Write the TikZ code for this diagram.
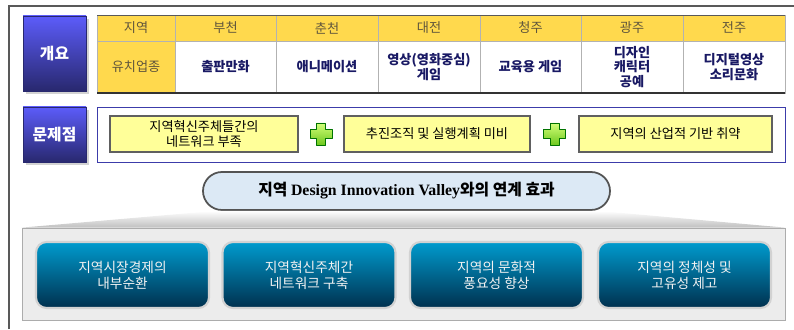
\documentclass[tikz,border=0pt]{standalone}
\usepackage{fontspec}
\setmainfont{Noto Sans CJK KR}
\newfontfamily\latinserif{Liberation Serif}
\usepackage{xcolor}
\usetikzlibrary{positioning,calc,shadows}
\definecolor{tagtop}{RGB}{92,92,250}
\definecolor{tagbot}{RGB}{40,40,110}
\definecolor{hdryellow}{RGB}{255,217,77}
\definecolor{cellgray}{RGB}{95,85,60}
\definecolor{cellnavy}{RGB}{25,25,100}
\definecolor{issueyellow}{RGB}{255,255,153}
\definecolor{frameblue}{RGB}{60,60,170}
\definecolor{pillblue}{RGB}{220,233,245}
\definecolor{tealtop}{RGB}{0,155,206}
\definecolor{tealbot}{RGB}{0,48,78}
\definecolor{plustop}{RGB}{210,255,120}
\definecolor{plusbot}{RGB}{110,200,30}

\begin{document}
\begin{tikzpicture}[
  font=\fontsize{7.5}{8.6}\selectfont,
  tag/.style={text=white,font=\fontsize{9}{11}\selectfont\bfseries,minimum width=1.26cm,top color=tagtop,bottom color=tagbot,draw=tagbot,drop shadow={shadow xshift=1.5pt,shadow yshift=-1.5pt,fill=gray!70}},
  hcell/.style={draw=gray!60,fill=hdryellow,text=cellgray,minimum width=#1,minimum height=0.52cm,inner sep=0pt,outer sep=0pt},
  bcell/.style={draw=gray!60,fill=white,text=cellnavy,font=\fontsize{7.5}{8.4}\selectfont\bfseries,minimum width=#1,minimum height=1.04cm,align=center,inner sep=0pt,outer sep=0pt},
  issue/.style={draw=gray!75!black,line width=1.2pt,fill=issueyellow,minimum height=0.72cm,align=center,inner sep=1pt},
  effect/.style={draw=gray!35,line width=1.2pt,rounded corners=6pt,top color=tealtop,bottom color=tealbot,text=white!90!gray,font=\fontsize{7.8}{9}\selectfont,minimum width=3.46cm,minimum height=1.32cm,align=center},
  plus/.style={draw=green!45!black,top color=plustop,bottom color=plusbot,line join=round}
]
\useasboundingbox (0,0) rectangle (15.88,6.58);
\draw[gray!70!black,line width=1.2pt] (0.18,0) -- (0.18,6.46) -- (15.88,6.46);

% overview row
\node[tag,minimum height=1.5cm] (overview) at (1.09,5.51) {개요};
\node[hcell=1.56cm,anchor=north west] (h1) at (1.94,6.28) {지역};
\node[hcell=2.02cm,right=0pt of h1] (h2) {부천};
\node[hcell=2.04cm,right=0pt of h2] (h3) {춘천};
\node[hcell=2.04cm,right=0pt of h3] (h4) {대전};
\node[hcell=2.02cm,right=0pt of h4] (h5) {청주};
\node[hcell=2.04cm,right=0pt of h5] (h6) {광주};
\node[hcell=2.04cm,right=0pt of h6] (h7) {전주};
\node[bcell=1.56cm,below=0pt of h1,fill=hdryellow,text=cellgray,font=\fontsize{7.5}{9}\selectfont] (b1) {유치업종};
\node[bcell=2.02cm,below=0pt of h2] (b2) {출판만화};
\node[bcell=2.04cm,below=0pt of h3] (b3) {애니메이션};
\node[bcell=2.04cm,below=0pt of h4] (b4) {영상(영화중심)\\게임};
\node[bcell=2.02cm,below=0pt of h5] (b5) {교육용 게임};
\node[bcell=2.04cm,below=0pt of h6] (b6) {디자인\\캐릭터\\공예};
\node[bcell=2.04cm,below=0pt of h7] (b7) {디지털영상\\소리문화};
\draw[gray!70!black] (h1.north west) -- (h7.north east);
\draw[black!80,line width=1.5pt] (b1.south west) -- (b7.south east);

% problem row
\node[tag,minimum height=1.1cm] (problem) at (1.09,3.89) {문제점};
\node[draw=frameblue,minimum width=13.76cm,minimum height=1.1cm] (pframe) at (8.82,3.89) {};
\node[issue,minimum width=3.76cm] (i1) at (4.08,3.90) {지역혁신주체들간의\\네트워크 부족};
\node[issue,minimum width=3.72cm] (i2) at (8.74,3.90) {추진조직 및 실행계획 미비};
\node[issue,minimum width=3.86cm] (i3) at (13.51,3.90) {지역의 산업적 기반 취약};
\coordinate (p1) at ($(i1.east)!0.5!(i2.west)$);
\coordinate (p2) at ($(i2.east)!0.5!(i3.west)$);
\draw[plus] (p1) ++(-0.09,0.22) -- ++(0.18,0) -- ++(0,-0.13) -- ++(0.13,0) -- ++(0,-0.18) -- ++(-0.13,0) -- ++(0,-0.13) -- ++(-0.18,0) -- ++(0,0.13) -- ++(-0.13,0) -- ++(0,0.18) -- ++(0.13,0) -- cycle;
\draw[plus] (p2) ++(-0.09,0.22) -- ++(0.18,0) -- ++(0,-0.13) -- ++(0.13,0) -- ++(0,-0.18) -- ++(-0.13,0) -- ++(0,-0.13) -- ++(-0.18,0) -- ++(0,0.13) -- ++(-0.13,0) -- ++(0,0.18) -- ++(0.13,0) -- cycle;

% linkage effects
\node[draw=gray!65,fill=gray!15,minimum width=15.26cm,minimum height=1.84cm] (base) at (8.07,1.10) {};
\node[draw=gray!65!black,line width=1pt,fill=pillblue,rounded corners=0.38cm,minimum width=8.14cm,minimum height=0.76cm,font=\fontsize{9}{10}\selectfont\bfseries] (valley) at (8.13,2.76) {지역 {\latinserif Design Innovation Valley}와의 연계 효과};
\shade[top color=white,bottom color=gray!50] ($(valley.south west)+(0.25,0)$) -- ($(valley.south east)+(-0.25,0)$) -- (base.north east) -- (base.north west) -- cycle;
\node[effect] (e1) at (2.45,1.08) {지역시장경제의\\내부순환};
\node[effect] (e2) at (6.18,1.08) {지역혁신주체간\\네트워크 구축};
\node[effect] (e3) at (9.93,1.08) {지역의 문화적\\풍요성 향상};
\node[effect] (e4) at (13.69,1.08) {지역의 정체성 및\\고유성 제고};
\end{tikzpicture}
\end{document}
